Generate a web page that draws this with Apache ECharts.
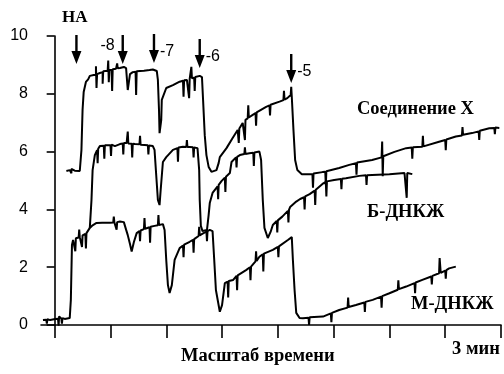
<!DOCTYPE html>
<html>
<head>
<meta charset="utf-8">
<script src="https://cdn.jsdelivr.net/npm/echarts@6/dist/echarts.min.js"></script>
<style>
  html, body { margin: 0; padding: 0; background: #fff; }
  #main { width: 504px; height: 374px; }
</style>
</head>
<body>
<div id="main"></div>
<script>
// время в делениях шкалы, ответ в условных единицах
var xTicks = [0, 1, 2, 3, 4, 5, 6, 7, 8];
var yTicks = [0, 2, 4, 6, 8, 10];

// Соединение X
var seriesX = [
  [0.21,5.33],[0.27,5.36],[0.30,5.25],[0.30,5.40],[0.36,5.34],[0.45,5.33],[0.48,6.06],[0.50,7.44],[0.52,8.06],[0.56,8.41],
  [0.60,8.50],[0.63,8.62],[0.70,8.65],[0.74,8.65],[0.74,8.95],[0.75,8.20],[0.76,8.68],[0.81,8.72],[0.86,8.75],[0.86,8.35],
  [0.87,8.78],[0.90,8.79],[0.95,8.80],[0.96,9.15],[0.97,8.40],[0.98,8.82],[1.02,8.82],[1.03,8.10],[1.04,8.85],[1.10,8.87],
  [1.12,9.05],[1.13,8.88],[1.17,8.89],[1.24,8.93],[1.28,8.89],[1.31,8.13],[1.35,8.68],[1.40,8.75],[1.45,8.76],[1.46,7.96],
  [1.47,8.78],[1.53,8.79],[1.60,8.80],[1.70,8.82],[1.76,8.84],[1.83,8.79],[1.85,8.48],[1.87,7.44],[1.88,6.64],[1.91,7.09],
  [1.92,7.79],[2.00,8.20],[2.12,8.30],[2.24,8.42],[2.30,8.45],[2.31,7.90],[2.32,8.47],[2.37,8.48],[2.40,8.50],[2.41,7.85],
  [2.42,8.52],[2.44,8.52],[2.45,8.93],[2.46,8.54],[2.47,8.55],[2.50,8.56],[2.51,8.10],[2.52,8.58],[2.60,8.62],[2.64,8.58],
  [2.66,7.79],[2.69,6.57],[2.72,5.88],[2.76,5.47],[2.81,5.30],[2.90,5.36],[2.94,5.61],[2.96,5.81],[3.08,6.12],[3.19,6.47],
  [3.28,6.75],[3.30,6.30],[3.31,6.80],[3.37,6.99],[3.40,7.05],[3.41,6.40],[3.42,7.10],[3.46,7.15],[3.47,7.60],[3.48,7.18],
  [3.55,7.27],[3.60,7.33],[3.61,6.90],[3.62,7.36],[3.79,7.55],[3.85,7.60],[3.86,7.25],[3.87,7.62],[4.03,7.73],[4.10,7.78],
  [4.11,8.10],[4.12,7.80],[4.17,7.85],[4.23,7.96],[4.24,8.24],[4.25,7.90],[4.26,7.89],[4.28,6.75],[4.31,5.71],[4.35,5.36],
  [4.43,5.22],[4.57,5.22],[4.62,5.22],[4.63,4.75],[4.64,5.24],[4.80,5.29],[4.85,5.30],[4.86,4.85],[4.87,5.32],[5.10,5.43],
  [5.28,5.54],[5.40,5.60],[5.41,5.20],[5.42,5.62],[5.69,5.71],[5.86,5.80],[5.87,6.35],[5.88,5.15],[5.89,5.84],[6.09,5.99],
  [6.30,6.12],[6.40,6.14],[6.41,5.75],[6.42,6.15],[6.59,6.17],[6.60,6.55],[6.61,6.18],[6.89,6.34],[7.00,6.40],[7.01,6.05],
  [7.02,6.42],[7.19,6.52],[7.30,6.56],[7.31,6.85],[7.32,6.58],[7.48,6.64],[7.60,6.70],[7.61,6.40],[7.62,6.72],[7.79,6.81],
  [7.88,6.82],[7.89,6.60],[7.90,6.83],[7.97,6.82]
];

// Б-ДНКЖ
var seriesB = [
  [0.63,3.36],[0.66,4.33],[0.68,5.36],[0.72,5.88],[0.76,6.05],[0.77,5.60],[0.78,6.10],[0.81,6.19],[0.88,6.20],[0.89,5.75],
  [0.90,6.22],[0.93,6.23],[1.00,6.22],[1.01,5.85],[1.02,6.24],[1.08,6.19],[1.17,6.26],[1.22,6.28],[1.23,5.90],[1.24,6.30],
  [1.29,6.30],[1.31,6.69],[1.32,6.28],[1.38,6.27],[1.39,5.80],[1.40,6.27],[1.44,6.26],[1.52,6.25],[1.53,6.55],[1.54,6.24],
  [1.61,6.23],[1.67,6.22],[1.68,5.90],[1.69,6.21],[1.76,6.19],[1.79,6.06],[1.82,5.19],[1.85,4.33],[1.88,4.15],[1.90,4.67],
  [1.94,5.64],[2.00,5.81],[2.12,6.06],[2.20,6.12],[2.21,5.65],[2.22,6.14],[2.30,6.17],[2.36,6.16],[2.37,6.40],[2.38,6.16],
  [2.42,6.16],[2.48,6.15],[2.49,5.80],[2.50,6.14],[2.56,6.12],[2.59,5.36],[2.60,4.33],[2.62,3.43],[2.65,3.25],[2.73,3.29],
  [2.76,3.81],[2.78,4.22],[2.83,4.57],[2.92,4.80],[2.93,4.35],[2.94,4.85],[2.99,4.98],[3.05,5.10],[3.06,4.60],[3.07,5.13],
  [3.14,5.26],[3.17,5.64],[3.25,5.80],[3.26,5.45],[3.27,5.82],[3.32,5.88],[3.40,5.92],[3.41,6.15],[3.42,5.92],[3.49,5.94],
  [3.56,5.96],[3.57,5.50],[3.58,5.97],[3.67,6.00],[3.70,5.71],[3.73,4.33],[3.76,3.36],[3.82,3.01],[3.87,3.22],[3.91,3.46],
  [3.98,3.60],[3.99,3.20],[4.00,3.62],[4.08,3.75],[4.18,3.95],[4.19,3.55],[4.20,3.98],[4.22,4.08],[4.33,4.27],[4.40,4.36],
  [4.47,4.42],[4.48,4.00],[4.49,4.45],[4.57,4.53],[4.66,4.65],[4.67,4.15],[4.68,4.68],[4.80,4.88],[4.86,4.95],[4.87,4.45],
  [4.88,4.97],[5.01,5.02],[5.13,5.05],[5.14,4.70],[5.15,5.06],[5.22,5.08],[5.46,5.16],[5.58,5.18],[5.59,4.85],[5.60,5.18],
  [5.69,5.19],[6.00,5.22],[6.27,5.26],[6.30,5.26],[6.31,4.40],[6.32,5.26],[6.41,5.22]
];

// М-ДНКЖ
var seriesM = [
  [-0.21,0.17],[-0.15,0.18],[-0.14,0.05],[-0.13,0.20],[-0.08,0.17],[0.01,0.21],[0.06,0.22],[0.07,-0.02],[0.08,0.30],[0.09,0.24],
  [0.12,0.22],[0.13,0.05],[0.14,0.24],[0.18,0.21],[0.27,0.24],[0.29,0.87],[0.31,2.77],[0.33,2.94],[0.36,2.98],[0.37,2.55],
  [0.38,3.00],[0.39,3.01],[0.43,3.03],[0.44,3.30],[0.45,3.04],[0.48,3.06],[0.49,2.70],[0.50,3.10],[0.51,3.11],[0.55,3.15],
  [0.56,2.65],[0.57,3.18],[0.60,3.22],[0.63,3.36],[0.68,3.45],[0.75,3.53],[0.85,3.54],[0.99,3.54],[1.05,3.55],[1.06,3.75],
  [1.07,3.55],[1.10,3.56],[1.11,3.30],[1.12,3.56],[1.17,3.58],[1.24,3.56],[1.28,3.30],[1.31,3.11],[1.35,2.80],[1.38,2.54],
  [1.42,2.87],[1.47,3.18],[1.52,3.25],[1.53,2.90],[1.54,3.27],[1.60,3.32],[1.61,3.70],[1.62,3.33],[1.65,3.36],[1.70,3.38],
  [1.71,2.85],[1.72,3.40],[1.79,3.43],[1.85,3.45],[1.86,3.80],[1.87,3.46],[1.94,3.49],[1.97,3.29],[2.00,2.25],[2.03,1.38],
  [2.06,1.11],[2.10,1.38],[2.15,2.25],[2.24,2.66],[2.30,2.75],[2.31,2.35],[2.32,2.78],[2.42,2.88],[2.48,2.95],[2.49,2.50],
  [2.50,2.97],[2.58,3.08],[2.59,3.40],[2.60,3.10],[2.66,3.17],[2.72,3.23],[2.73,2.90],[2.74,3.25],[2.78,3.29],[2.83,3.25],
  [2.86,2.25],[2.89,1.21],[2.96,0.46],[3.00,0.69],[3.05,1.45],[3.10,1.50],[3.11,0.95],[3.12,1.52],[3.20,1.56],[3.26,1.70],
  [3.27,1.20],[3.28,1.72],[3.43,1.90],[3.50,2.00],[3.51,1.55],[3.52,2.02],[3.60,2.20],[3.61,2.55],[3.62,2.22],[3.67,2.36],
  [3.73,2.45],[3.74,1.85],[3.75,2.47],[3.91,2.60],[4.00,2.70],[4.01,2.35],[4.02,2.72],[4.18,2.94],[4.25,3.04],[4.27,2.25],
  [4.30,1.21],[4.33,0.42],[4.39,0.24],[4.45,0.23],[4.55,0.25],[4.56,0.00],[4.57,0.27],[4.81,0.29],[4.95,0.40],[4.96,0.10],
  [4.97,0.42],[5.10,0.52],[5.25,0.60],[5.26,0.95],[5.27,0.62],[5.40,0.69],[5.55,0.78],[5.56,0.45],[5.57,0.80],[5.70,0.87],
  [5.85,0.98],[5.86,0.60],[5.87,1.00],[6.00,1.10],[6.15,1.22],[6.16,1.55],[6.17,1.24],[6.30,1.33],[6.45,1.45],[6.46,1.10],
  [6.47,1.47],[6.59,1.56],[6.75,1.68],[6.76,1.40],[6.77,1.70],[6.89,1.79],[6.90,2.32],[6.92,1.80],[7.00,1.88],[7.01,1.60],
  [7.02,1.90],[7.07,1.96],[7.19,2.02]
];

// стрелки добавления НА (острие стрелки)
var arrowT = [0.39, 1.22, 1.78, 2.60, 4.24];
var arrowTip = [9.03, 9.03, 9.07, 8.89, 8.37];
var arrowNames = ['', '-8', '-7', '-6', '-5'];

var arrowPath = 'path://M3.8,0 L6.2,0 L6.2,16 L10,16 L5,29 L0,16 L3.8,16 Z';
var serif = '"Liberation Serif", "DejaVu Serif", serif';
var sans = '"Liberation Sans", Arial, sans-serif';

var arrowData = [];
for (var i = 0; i < arrowT.length; i++) {
  var lbl = {
    show: arrowNames[i] !== '',
    formatter: arrowNames[i],
    position: 'right',
    distance: 1,
    offset: [0, 3],
    color: '#000',
    fontSize: 16,
    fontWeight: 500,
    fontFamily: sans
  };
  if (arrowNames[i] === '-8') {
    lbl.position = 'left';
    lbl.distance = 3;
    lbl.offset = [0, -4];
  }
  arrowData.push({ value: [arrowT[i], arrowTip[i]], label: lbl });
}

function traceSeries(name, data) {
  return {
    name: name,
    type: 'line',
    data: data,
    showSymbol: false,
    symbol: 'none',
    lineStyle: { color: '#000', width: 2 },
    silent: true
  };
}

var myChart = echarts.init(document.getElementById('main'));
var option = {
  animation: false,
  backgroundColor: '#fff',
  grid: { left: 41, right: 2, top: 36, bottom: 49 },
  xAxis: {
    type: 'value',
    min: -0.245,
    max: 8,
    splitLine: { show: false },
    axisLine: { show: true, onZero: false, lineStyle: { color: '#000', width: 1.6 } },
    axisTick: { show: true, customValues: xTicks, length: 13, lineStyle: { color: '#000', width: 1.6 } },
    axisLabel: { show: true, customValues: xTicks, formatter: function () { return ''; } }
  },
  yAxis: {
    type: 'value',
    min: 0,
    max: 10,
    interval: 2,
    splitLine: { show: false },
    axisLine: { show: true, lineStyle: { color: '#000', width: 1.6 } },
    axisTick: { show: true, length: 8, lineStyle: { color: '#000', width: 1.6 } },
    axisLabel: { color: '#000', fontSize: 16, fontFamily: sans, margin: 13 }
  },
  series: [
    traceSeries('Соединение X', seriesX),
    traceSeries('Б-ДНКЖ', seriesB),
    traceSeries('М-ДНКЖ', seriesM),
    {
      name: 'НА',
      type: 'scatter',
      data: arrowData,
      symbol: arrowPath,
      symbolSize: [10, 29],
      symbolOffset: [0, -14.5],
      itemStyle: { color: '#000', opacity: 1 },
      silent: true
    }
  ],
  graphic: [
    { type: 'text', left: 62, top: 9, style: { text: 'НА', font: 'bold 17px ' + serif, fill: '#000' } },
    { type: 'text', left: 357, top: 100, style: { text: 'Соединение X', font: 'bold 18.5px ' + serif, fill: '#000' } },
    { type: 'text', left: 367, top: 203, style: { text: 'Б-ДНКЖ', font: 'bold 18.5px ' + serif, fill: '#000' } },
    { type: 'text', left: 411, top: 295, style: { text: 'М-ДНКЖ', font: 'bold 18.5px ' + serif, fill: '#000' } },
    { type: 'text', left: 452, top: 340, style: { text: '3 мин', font: 'bold 18.5px ' + serif, fill: '#000' } },
    { type: 'text', left: 181, top: 347, style: { text: 'Масштаб времени', font: 'bold 18.5px ' + serif, fill: '#000' } }
  ]
};
myChart.setOption(option);
window.onresize = myChart.resize;
</script>
</body>
</html>
